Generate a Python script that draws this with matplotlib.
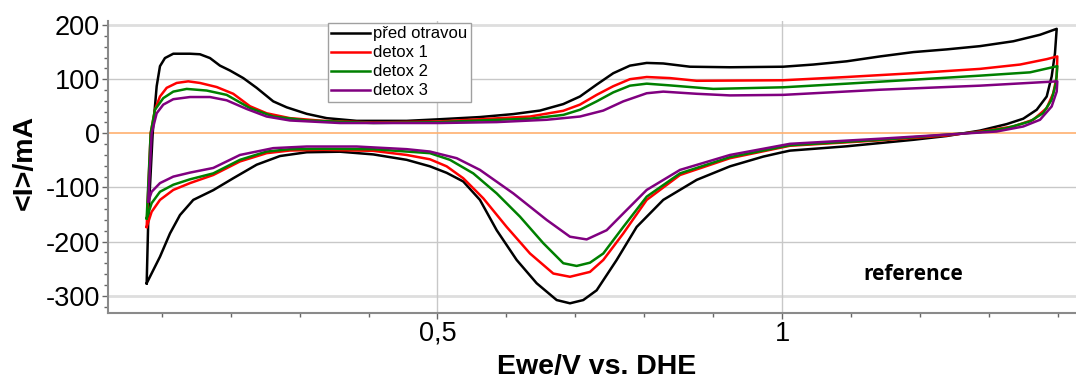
import matplotlib
matplotlib.use("Agg")
import matplotlib.pyplot as plt
from matplotlib.ticker import MultipleLocator, FuncFormatter

plt.rcParams['font.family'] = ['Liberation Sans', 'DejaVu Sans']
plt.rcParams['axes.unicode_minus'] = False

# Cyclic voltammograms: potential (V vs. DHE) and current (mA), loop starts at the lower vertex
pred_E = [0.0782, 0.0805, 0.0869, 0.0927, 0.0975, 0.1047, 0.1168, 0.1410, 0.1555, 0.1700,
          0.1845, 0.1990, 0.2183, 0.2377, 0.2618, 0.2813, 0.3103, 0.3393, 0.3828, 0.4553,
          0.5036, 0.5616, 0.6100, 0.6487, 0.6825, 0.7067, 0.7309, 0.7550, 0.7792, 0.8035,
          0.8275, 0.8663, 0.9243, 1.0016, 1.0451, 1.0936, 1.1419, 1.1902, 1.2386, 1.2869,
          1.3352, 1.3740, 1.3982,
          1.3957, 1.3909, 1.3837, 1.3692, 1.3497, 1.3257, 1.2869, 1.2386, 1.1902, 1.1419,
          1.0936, 1.0113, 0.9968, 0.9726, 0.9243, 0.8760, 0.8275, 0.7889, 0.7599, 0.7309,
          0.7115, 0.6922, 0.6729, 0.6439, 0.6149, 0.5859, 0.5616, 0.5374, 0.5133, 0.4891,
          0.4553, 0.4069, 0.3586, 0.3103, 0.2715, 0.2377, 0.2038, 0.1748, 0.1458, 0.1265,
          0.1120, 0.0975, 0.0782]
pred_I = [-277, -160, 0, 87, 124, 139, 147, 147, 146, 139,
          125, 116, 102, 84, 59, 48, 36, 28, 23, 23,
          26, 30, 35.5, 42, 54, 68, 90, 111, 125, 130,
          129, 123, 122, 123, 127, 133, 142, 150, 155, 161,
          170, 182, 193,
          148, 105, 68, 43.5, 27, 17, 5, -5, -12, -18,
          -24, -32, -36, -43, -61, -86, -123, -173, -234, -290,
          -308, -314, -308, -277, -234, -179, -123, -89, -73, -61,
          -49, -39, -34, -35, -42, -58, -83, -105, -123, -151,
          -185, -228, -277]

detox1_E = [0.0782, 0.0840, 0.0902, 0.0975, 0.1072, 0.1217, 0.1385, 0.1555, 0.1797, 0.2038,
            0.2280, 0.2522, 0.2860, 0.3343, 0.4069, 0.5036, 0.5616, 0.6342, 0.6825, 0.7067,
            0.7309, 0.7550, 0.7792, 0.8035, 0.8373, 0.8760, 1.0016, 1.0936, 1.1902, 1.2869,
            1.3450, 1.3837, 1.3991,
            1.3982, 1.3932, 1.3837, 1.3642, 1.3352, 1.2869, 1.2386, 1.1419, 1.0113, 0.9243,
            0.8518, 0.8035, 0.7695, 0.7405, 0.7212, 0.6922, 0.6680, 0.6342, 0.6004, 0.5664,
            0.5374, 0.5133, 0.4891, 0.4553, 0.4069, 0.3343, 0.2860, 0.2522, 0.2135, 0.1748,
            0.1410, 0.1168, 0.0975, 0.0854, 0.0782]
detox1_I = [-173, 0, 43.5, 68, 84, 93, 96, 93, 85.5, 73,
            50, 37, 28, 23, 20, 22, 26, 31, 41.6, 53,
            71, 87, 100, 104, 102, 97, 98, 104, 111, 119,
            127, 137, 142,
            105, 74, 46.6, 25, 12.6, 3.3, -4, -13, -23, -46,
            -77, -123, -185, -234, -256, -265, -259, -222, -173, -120,
            -83, -61, -48, -40, -32.4, -30.6, -31.8, -36.7, -52, -77,
            -92, -104.6, -123, -145, -173]

detox2_E = [0.0782, 0.0840, 0.0902, 0.1023, 0.1168, 0.1362, 0.1652, 0.1942, 0.2280, 0.2618,
            0.3103, 0.4069, 0.5036, 0.5616, 0.6342, 0.6825, 0.7067, 0.7309, 0.7550, 0.7792,
            0.8035, 0.8373, 0.9001, 1.0016, 1.0936, 1.1902, 1.2869, 1.3595, 1.3991,
            1.3972, 1.3909, 1.3787, 1.3595, 1.3257, 1.2869, 1.1419, 1.0113, 0.9243, 0.8518,
            0.8035, 0.7695, 0.7405, 0.7212, 0.7019, 0.6825, 0.6535, 0.6197, 0.5859, 0.5519,
            0.5181, 0.4891, 0.4553, 0.4069, 0.3343, 0.2860, 0.2522, 0.2135, 0.1748, 0.1410,
            0.1168, 0.0975, 0.0854, 0.0782]
detox2_I = [-157, 0, 43.5, 65, 77, 82, 79, 71, 46.6, 31,
            23.7, 19, 20.7, 23.7, 27, 34, 43.5, 59, 75.6, 88,
            91.7, 88.5, 82, 85, 91.7, 99, 106.5, 112.6, 124,
            93, 62, 37.4, 22, 9.6, 2.2, -12, -22, -44, -74,
            -117, -173, -222, -239, -245, -240, -203, -154, -111, -74,
            -49, -36.7, -33.7, -29.3, -28.7, -29.3, -33.7, -49, -74, -85,
            -95, -108, -129, -157]

detox3_E = [0.0805, 0.0854, 0.0927, 0.1023, 0.1168, 0.1410, 0.1700, 0.1942, 0.2232, 0.2522,
            0.2860, 0.3586, 0.5036, 0.5859, 0.6584, 0.7067, 0.7405, 0.7695, 0.8035, 0.8275,
            0.8760, 0.9243, 1.0016, 1.1419, 1.2869, 1.3991,
            1.3982, 1.3909, 1.3740, 1.3497, 1.3111, 1.1419, 1.0113, 0.9243, 0.8518, 0.8035,
            0.7695, 0.7454, 0.7164, 0.6922, 0.6584, 0.6100, 0.5616, 0.5279, 0.4891, 0.4553,
            0.3828, 0.3103, 0.2618, 0.2135, 0.1748, 0.1410, 0.1168, 0.0975, 0.0854, 0.0805]
detox3_I = [-126, 0, 37, 53, 63, 67, 67, 61, 45, 31,
            23.7, 19, 19, 20.7, 25, 31, 42, 59, 74, 77,
            73, 70, 71, 80.5, 88, 96,
            77, 49.6, 25, 12.6, 3.3, -10, -19.4, -40, -67.6, -104.6,
            -148, -179, -196, -191, -160, -111, -67.6, -46, -33.7, -29.3,
            -24.4, -24.4, -27.4, -40, -64, -72.6, -80, -92, -108, -126]

series_labels = ['před otravou', 'detox 1', 'detox 2', 'detox 3']
series_colors = ['#000000', '#ff0000', '#008000', '#800080']
series_data = [(pred_E, pred_I), (detox1_E, detox1_I), (detox2_E, detox2_I), (detox3_E, detox3_I)]

fig = plt.figure(figsize=(10.76, 3.8), dpi=100)
ax = fig.add_axes([108 / 1076, 1 - 312.5 / 380, 968 / 1076, 291.8 / 380])

ax.set_xlim(0.0221, 1.4262)
ax.set_ylim(-331, 208)

# grid: regular lines plus lighter bands at the range ends
for y in (100, -100, -200):
    ax.axhline(y, color='#c8c8c8', lw=1, zorder=0)
for y in (200, -300):
    ax.axhline(y, color='#dedede', lw=2, zorder=0)
for x in (0.5, 1.0):
    ax.axvline(x, color='#c8c8c8', lw=1, zorder=0)
ax.axhline(0, color='#ffb070', lw=1.2, zorder=1)

for (E, I), lab, col in zip(series_data, series_labels, series_colors):
    ax.plot(E, I, color=col, lw=1.8, label=lab, zorder=2, solid_joinstyle='round')

for side in ('top', 'right'):
    ax.spines[side].set_visible(False)
for side in ('left', 'bottom'):
    ax.spines[side].set_color('#8a8a8a')
    ax.spines[side].set_linewidth(1.5)

ax.xaxis.set_major_locator(MultipleLocator(0.5))
ax.xaxis.set_minor_locator(MultipleLocator(0.1))
ax.yaxis.set_major_locator(MultipleLocator(100))
ax.yaxis.set_minor_locator(MultipleLocator(20))
ax.xaxis.set_major_formatter(FuncFormatter(lambda v, p: f"{v:g}".replace('.', ',')))
ax.tick_params(axis='both', which='major', direction='out', length=4, width=1,
               color='#666666', labelsize=19.5, pad=2)
ax.tick_params(axis='both', which='minor', direction='out', length=3, width=1, color='#666666')

fig.text(597 / 1076, 1 - 367 / 380, 'Ewe/V vs. DHE', ha='center', va='center',
         fontsize=20.5, fontweight='bold')
fig.text(25 / 1076, 1 - 162 / 380, '<I>/mA', ha='center', va='center', rotation=90,
         fontsize=20.5, fontweight='bold')

ax.text(1.19, -260, 'reference', ha='center', va='center', fontsize=15,
        fontweight='bold', family=['Open Sans', 'DejaVu Sans'])

leg = ax.legend(loc='upper left', bbox_to_anchor=(0.2273, 0.992), borderaxespad=0,
                fontsize=12, handlelength=2.3, handletextpad=0.2, labelspacing=0.24,
                borderpad=0.2, fancybox=False, framealpha=1, edgecolor='#a0a0a0')
leg.get_frame().set_linewidth(1)

fig.savefig('out.png', dpi=100)
